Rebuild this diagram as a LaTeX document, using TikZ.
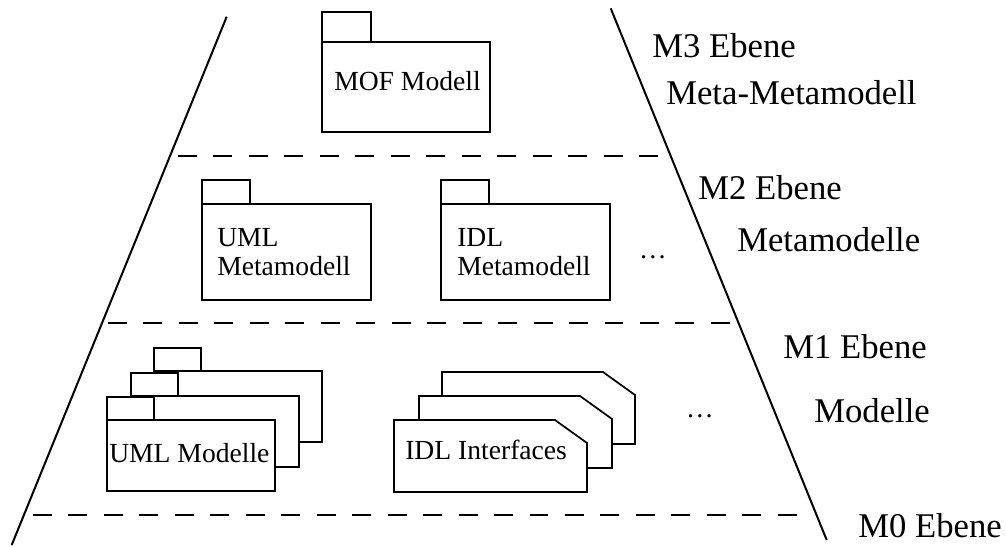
\documentclass[tikz,border=0pt]{standalone}
\usepackage{fontspec}
\setmainfont{Liberation Serif}
\begin{document}
\begin{tikzpicture}[x=0.75pt,y=-0.75pt,
  edge/.style={line width=1.5pt},
  box/.style={draw, line width=1.3pt, fill=white},
  lvl/.style={dash pattern=on 14.2pt off 12.4pt, line width=1.2pt},
  lbl/.style={font=\fontsize{20.7}{23}\selectfont, inner sep=0pt, anchor=base west},
  side/.style={font=\fontsize{26}{29}\selectfont, inner sep=0pt, anchor=base west}]
\useasboundingbox (0,0) rectangle (1006,546);
% trapezoid
\coordinate (tl) at (226.7,16.7); \coordinate (bl) at (11.7,545);
\coordinate (tr) at (610.7,8.3);  \coordinate (br) at (826.7,540);
\draw[edge] (tl) -- (bl);
\draw[edge] (tr) -- (br);
% level separators
\coordinate (d1a) at (178,156); \coordinate (d1b) at (659,156);
\coordinate (d2a) at (108,323); \coordinate (d2b) at (731,323);
\coordinate (d3a) at (33,515);  \coordinate (d3b) at (798,515);
\draw[lvl] (d1a) -- (d1b);
\draw[lvl] (d2a) -- (d2b);
\draw[lvl] (d3a) -- (d3b);
% MOF package
\draw[box] (322,12) rectangle (371,42);
\draw[box] (322,42) rectangle (490,132);
\node[lbl] (mof) at (334,90) {MOF Modell};
% UML metamodel
\draw[box] (202,180) rectangle (250,204);
\draw[box] (202,204) rectangle (371,300);
\node[lbl] (umlm) at (217,246) {UML};
\node[lbl] (umlm2) at (217,275) {Metamodell};
% IDL metamodel
\draw[box] (441,180) rectangle (489,204);
\draw[box] (441,204) rectangle (610,300);
\node[lbl] (idlm) at (457,246) {IDL};
\node[lbl] (idlm2) at (457,275) {Metamodell};
\node[lbl, anchor=base] (dots2) at (653,258) {\dots};
% UML models stack
\foreach \dx/\dy in {47/-49, 24/-24, 0/0}{
  \draw[box] ({107+\dx},{397+\dy}) rectangle ({154+\dx},{420+\dy});
  \draw[box] ({107+\dx},{420+\dy}) rectangle ({275+\dx},{491+\dy});
}
\node[lbl] (umlmod) at (109,462) {UML Modelle};
% IDL interfaces stack
\foreach \dx/\dy in {48/-48, 25/-24, 0/0}{
  \draw[box] ({394+\dx},{420+\dy}) -- ({555+\dx},{420+\dy}) -- ({587+\dx},{443+\dy})
     -- ({587+\dx},{492+\dy}) -- ({394+\dx},{492+\dy}) -- cycle;
}
\node[lbl] (idlif) at (405,459) {IDL Interfaces};
\node[lbl, anchor=base] (dots1) at (700,417) {\dots};
% side labels
\node[side] (m3) at (652,57) {M3 Ebene};
\node[side] (m3b) at (666,104) {Meta-Metamodell};
\node[side] (m2) at (698,199) {M2 Ebene};
\node[side] (m2b) at (737,251) {Metamodelle};
\node[side] (m1) at (783,358) {M1 Ebene};
\node[side] (m1b) at (814,422) {Modelle};
\node[side] (m0) at (858,537) {M0 Ebene};
\end{tikzpicture}
\end{document}
